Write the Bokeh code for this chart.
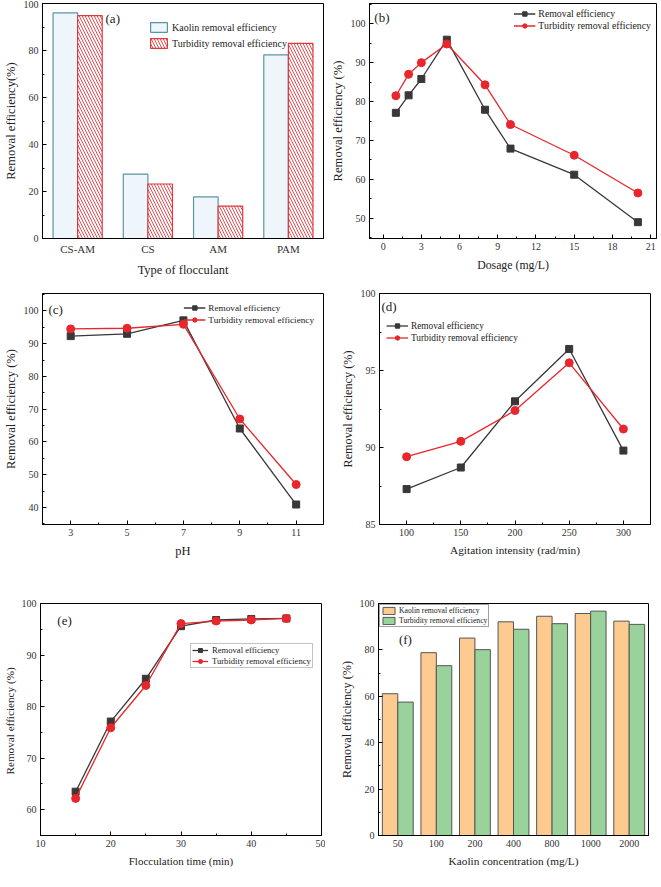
from bokeh.plotting import figure
from bokeh.layouts import column, row
from bokeh.models import (Range1d, FactorRange, Legend, LegendItem, Label,
                          ColumnDataSource, SingleIntervalTicker, FixedTicker)
from bokeh.transform import dodge
from bokeh.embed import file_html
from bokeh.resources import INLINE

FONT = "Liberation Serif"

# ---------------- data ----------------
# (a)
flocculants = ["CS-AM", "CS", "AM", "PAM"]
a_kaolin = [96.0, 27.4, 17.7, 78.1]
a_turbidity = [94.8, 23.2, 13.8, 83.0]

# (b)
dosage = [1, 2, 3, 5, 8, 10, 15, 20]
b_removal = [77.1, 81.6, 85.8, 95.9, 77.9, 67.9, 61.2, 49.0]
b_turbidity = [81.5, 87.0, 90.0, 94.8, 84.3, 74.1, 66.2, 56.5]

# (c)
ph = [3, 5, 7, 9, 11]
ph_ticks = [3, 5, 7, 9, 11]
ph_minor_ticks = [4, 6, 8, 10]
c_removal = [92.3, 93.0, 97.1, 64.1, 40.9]
c_turbidity = [94.5, 94.7, 95.9, 67.0, 47.0]

# (d)
agitation = [100, 150, 200, 250, 300]
d_removal = [87.3, 88.7, 93.0, 96.4, 89.8]
d_turbidity = [89.4, 90.4, 92.4, 95.5, 91.2]

# (e)
floc_time = [15, 20, 25, 30, 35, 40, 45]
e_removal = [63.5, 77.1, 85.4, 95.6, 96.8, 97.0, 97.1]
e_turbidity = [62.2, 75.9, 84.1, 96.1, 96.6, 96.8, 97.1]

# (f)
kaolin_conc = ["50", "100", "200", "400", "800", "1000", "2000"]
f_kaolin = [61.1, 78.8, 85.1, 92.1, 94.5, 95.7, 92.4]
f_turbidity = [57.5, 73.2, 80.1, 88.9, 91.3, 96.7, 91.0]

BLACK = "#383838"
RED = "#e8262b"


def make_fig(fw, fh, x_range, y_range, borders):
    left, right, top, bottom = borders
    p = figure(frame_width=fw, frame_height=fh, x_range=x_range, y_range=y_range,
               title=None, output_backend="svg", toolbar_location=None,
               min_border_left=left, min_border_right=right,
               min_border_top=top, min_border_bottom=bottom)
    p.outline_line_color = "black"
    p.outline_line_width = 1
    p.outline_line_alpha = 1
    p.xgrid.visible = False
    p.ygrid.visible = False
    return p


def style_axes(p, xlabel, ylabel, xsize="12px", ysize="12.5px", categorical_x=False):
    for ax in p.axis:
        ax.axis_line_color = "black"
        ax.major_tick_in = 4
        ax.major_tick_out = 0
        ax.minor_tick_in = 2
        ax.minor_tick_out = 0
        ax.major_tick_line_color = "black"
        ax.minor_tick_line_color = "black"
        ax.major_label_text_font = FONT
        ax.major_label_text_font_size = "10px"
        ax.major_label_text_color = "#333333"
        ax.axis_label_text_font = FONT
        ax.axis_label_text_font_style = "normal"
        ax.axis_label_text_color = "#222222"
    p.xaxis.axis_label = xlabel
    p.yaxis.axis_label = ylabel
    p.xaxis.axis_label_text_font_size = xsize
    p.yaxis.axis_label_text_font_size = ysize
    p.xaxis.major_label_standoff = 4
    p.xaxis.axis_label_standoff = 5
    p.yaxis.major_label_standoff = 4
    p.yaxis.axis_label_standoff = 3
    if categorical_x:
        p.xaxis.major_tick_line_color = None


def panel_label(p, text, x, y, align="left"):
    p.add_layout(Label(x=x, y=y, text=text, text_font=FONT, text_font_size="13px",
                       text_color="#222222", text_align=align, text_baseline="middle"))


def make_legend(items, loc, size, glyph_w, glyph_h, spacing, margin=0, border=None,
                padding=2, standoff=3, label_width=20):
    return Legend(items=items, location=loc, orientation="vertical",
                  label_text_font=FONT, label_text_font_size=size,
                  label_text_color="#222222",
                  glyph_width=glyph_w, glyph_height=glyph_h, label_height=glyph_h,
                  label_width=label_width,
                  label_standoff=standoff, spacing=spacing, padding=padding, margin=margin,
                  background_fill_alpha=0.0 if border is None else 1.0,
                  background_fill_color="white",
                  border_line_color=border)


def line_panel(p, xs, ys_black, ys_red, **legend_kw):
    src = ColumnDataSource(dict(x=xs, r=ys_black, t=ys_red))
    l1 = p.line("x", "r", source=src, line_color=BLACK, line_width=1.3)
    s1 = p.scatter("x", "r", source=src, marker="square", size=7, fill_color=BLACK, line_color=BLACK)
    l2 = p.line("x", "t", source=src, line_color=RED, line_width=1.3)
    s2 = p.scatter("x", "t", source=src, marker="circle", size=8, fill_color=RED, line_color=RED)
    items = [LegendItem(label="Removal efficiency", renderers=[l1, s1]),
             LegendItem(label="Turbidity removal efficiency", renderers=[l2, s2])]
    p.add_layout(make_legend(items, **legend_kw))


# ---------------- (a) ----------------
pa = make_fig(281, 235, FactorRange(*flocculants), Range1d(0, 100), (36, 4, 3, 42))
src_a = ColumnDataSource(dict(cat=flocculants, k=a_kaolin, t=a_turbidity))
ra1 = pa.vbar(x=dodge("cat", -0.175, range=pa.x_range), top="k", width=0.35, source=src_a,
              fill_color="#eef5fb", line_color="#5a95a3", line_width=1.2)
ra2 = pa.vbar(x=dodge("cat", 0.175, range=pa.x_range), top="t", width=0.35, source=src_a,
              fill_color="white", line_color="#e0393e", line_width=1.2,
              hatch_pattern="\\", hatch_color="#e0393e", hatch_scale=6, hatch_weight=0.9)
pa.yaxis.ticker = SingleIntervalTicker(interval=20, num_minor_ticks=2)
style_axes(pa, "Type of flocculant", "Removal efficiency(%)", xsize="12.4px", ysize="12.6px",
           categorical_x=True)
pa.xaxis.major_label_text_font_size = "11px"
pa.add_layout(make_legend([LegendItem(label="Kaolin removal efficiency", renderers=[ra1]),
                           LegendItem(label="Turbidity removal efficiency", renderers=[ra2])],
                          loc="top_right", size="10px", glyph_w=21, glyph_h=12, spacing=4,
                          margin=18, padding=2, standoff=3, label_width=133))
panel_label(pa, "(a)", 1.0, 93.7, align="center")

# ---------------- (b) ----------------
pb = make_fig(287, 235, Range1d(-1.07, 21.46), Range1d(44.8, 105.2), (36, 1, 3, 42))
pb.xaxis.ticker = SingleIntervalTicker(interval=3, num_minor_ticks=2)
pb.yaxis.ticker = SingleIntervalTicker(interval=10, num_minor_ticks=2)
line_panel(pb, dosage, b_removal, b_turbidity, loc="top_right", size="9.8px", glyph_w=22,
           glyph_h=11, spacing=1, margin=5, padding=2, standoff=3, label_width=110)
style_axes(pb, "Dosage (mg/L)", "Removal efficiency (%)", xsize="11.8px", ysize="12.6px")
panel_label(pb, "(b)", -0.69, 101.6)

# ---------------- (c) ----------------
pc = make_fig(281, 231, Range1d(2.0, 11.97), Range1d(34.8, 105.3), (36, 4, 13, 56))
pc.xaxis.ticker = FixedTicker(ticks=ph_ticks, minor_ticks=ph_minor_ticks)
pc.yaxis.ticker = SingleIntervalTicker(interval=10, num_minor_ticks=2)
line_panel(pc, ph, c_removal, c_turbidity, loc="top_right", size="9.2px", glyph_w=22,
           glyph_h=11, spacing=1, margin=9, padding=0, standoff=3, label_width=97)
style_axes(pc, "pH", "Removal efficiency (%)", xsize="12.5px", ysize="12.5px")
panel_label(pc, "(c)", 2.21, 100.5)

# ---------------- (d) ----------------
pd_ = make_fig(271, 231, Range1d(75, 325), Range1d(85, 100), (52, 1, 13, 56))
pd_.xaxis.ticker = SingleIntervalTicker(interval=50, num_minor_ticks=2)
pd_.yaxis.ticker = SingleIntervalTicker(interval=5, num_minor_ticks=2)
line_panel(pd_, agitation, d_removal, d_turbidity, loc="top_right", size="9.3px", glyph_w=22,
           glyph_h=11, spacing=1, margin=27, padding=2, standoff=3, label_width=212)
style_axes(pd_, "Agitation intensity (rad/min)", "Removal efficiency (%)", xsize="11.3px",
           ysize="12.2px")
panel_label(pd_, "(d)", 76.8, 99.15)

# ---------------- (e) ----------------
pe = make_fig(281, 232, Range1d(10, 50), Range1d(55, 100), (36, 4, 23, 36))
pe.xaxis.ticker = SingleIntervalTicker(interval=10, num_minor_ticks=2)
pe.yaxis.ticker = SingleIntervalTicker(interval=10, num_minor_ticks=2)
line_panel(pe, floc_time, e_removal, e_turbidity, loc=(150, 167), size="8.6px",
           glyph_w=16, glyph_h=10, spacing=1, margin=0, border="#888888", padding=1,
           standoff=4, label_width=20)
style_axes(pe, "Flocculation time (min)", "Removal efficiency  (%)", xsize="11px",
           ysize="11.2px")
panel_label(pe, "(e)", 12.4, 96.7)

# ---------------- (f) ----------------
pf = make_fig(270, 232, FactorRange(*kaolin_conc), Range1d(0, 100), (53, 1, 23, 36))
src_f = ColumnDataSource(dict(cat=kaolin_conc, k=f_kaolin, t=f_turbidity))
rf1 = pf.vbar(x=dodge("cat", -0.2, range=pf.x_range), top="k", width=0.4, source=src_f,
              fill_color="#fdca90", line_color="#555555", line_width=1)
rf2 = pf.vbar(x=dodge("cat", 0.2, range=pf.x_range), top="t", width=0.4, source=src_f,
              fill_color="#99d29a", line_color="#555555", line_width=1)
pf.yaxis.ticker = SingleIntervalTicker(interval=20, num_minor_ticks=2)
style_axes(pf, "Kaolin concentration (mg/L)", "Removal efficiency (%)", xsize="11.3px",
           ysize="12.2px", categorical_x=True)
pf.add_layout(make_legend([LegendItem(label="Kaolin removal efficiency", renderers=[rf1]),
                           LegendItem(label="Turbidity removal efficiency", renderers=[rf2])],
                          loc="top_left", size="7.7px", glyph_w=15, glyph_h=9, spacing=1,
                          margin=1, border="#444444", padding=1, standoff=3, label_width=20))
panel_label(pf, "(f)", 0.53, 84.6)

layout = column(row(pa, pb, spacing=0), row(pc, pd_, spacing=0), row(pe, pf, spacing=0), spacing=0)

with open("out.html", "w") as f:
    f.write(file_html(layout, INLINE))
